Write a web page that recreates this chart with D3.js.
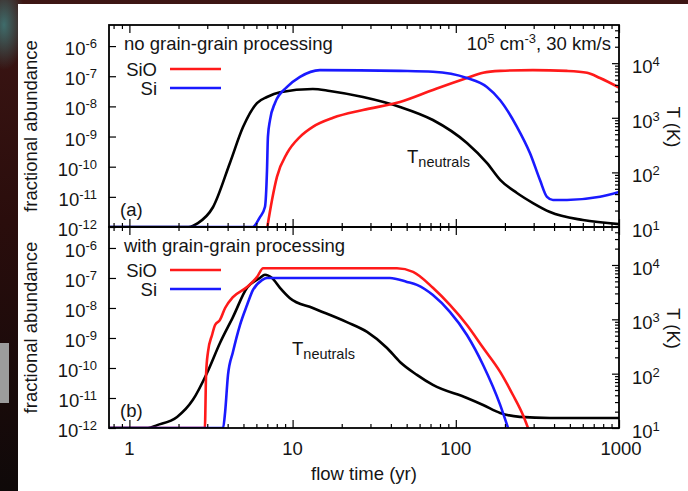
<!DOCTYPE html>
<html>
<head>
<meta charset="utf-8">
<script src="https://cdn.jsdelivr.net/npm/d3@7"></script>
<style>
    body { margin: 0; background: #1a0909; overflow: hidden; }
    svg text { font-family: "Liberation Sans", Arial, Helvetica, sans-serif; fill: #151515; }
</style>
</head>
<body>
<div id="chart"></div>
<script>
// Panel (a): no grain-grain processing
const aTempTime = [0.75, 2.3, 2.63, 3.25, 4.13, 4.97, 6.05, 6.97, 8.37, 13.3, 16.9, 27, 45.5, 72.4, 117, 155, 187, 237, 297, 378, 601, 1000];
const aTemp     = [10, 10, 11.8, 23, 149, 676, 1860, 2400, 2940, 3370, 3100, 2400, 1580, 910, 345, 149, 73, 42, 27.5, 18.8, 13.4, 11.3];
const aSiTime   = [0.75, 5.7, 6.3, 6.77, 6.97, 7.06, 7.27, 7.8, 9.25, 11.1, 14.7, 45.5, 72.4, 117, 155, 187, 237, 285, 328, 362, 394, 480, 765, 1000];
const aSi       = [1e-12, 1e-12, 2.1e-12, 4.6e-12, 7.8e-11, 9.8e-10, 3.5e-9, 1.3e-8, 4.4e-8, 9.5e-8, 1.6e-7, 1.5e-7, 1.4e-7, 8.7e-8, 4.4e-8, 1.6e-8, 2.1e-9, 2.8e-10, 3.6e-11, 1.0e-11, 7.9e-12, 7.9e-12, 1.0e-11, 1.45e-11];
const aSiOTime  = [7.0, 7.48, 8.02, 9.25, 11.1, 13.3, 17.7, 27, 45.5, 72.4, 117, 147, 187, 297, 480, 637, 765, 1000];
const aSiO      = [1e-12, 7.9e-12, 4.6e-11, 2.8e-10, 9.8e-10, 2.1e-9, 4.2e-9, 7.6e-9, 1.4e-8, 3.5e-8, 8.7e-8, 1.3e-7, 1.5e-7, 1.6e-7, 1.5e-7, 1.3e-7, 8.7e-8, 4.2e-8];

// Panel (b): with grain-grain processing
const bTempTime = [0.75, 1.3, 1.48, 1.96, 2.45, 2.99, 3.59, 4.31, 5.26, 6.3, 6.77, 7.48, 8.37, 9.64, 13.3, 21.5, 28.6, 37.9, 45.5, 57.8, 72.4, 117, 147, 187, 247, 378, 1000];
const bTemp     = [10, 10, 11.3, 16, 33, 103, 367, 1100, 3800, 5760, 6600, 5760, 3800, 2450, 1620, 890, 587, 297, 164, 95, 62, 35.6, 26.5, 18.9, 16, 15.3, 15.3];
const bSiTime   = [0.75, 3.75, 3.86, 4.02, 4.31, 4.76, 5.26, 5.72, 6.49, 6.97, 39.5, 50.2, 57.8, 72.4, 92, 117, 147, 187, 209];
const bSi       = [1e-12, 1e-12, 3.4e-12, 5.9e-11, 3.4e-10, 2.7e-9, 1.26e-8, 4e-8, 8.5e-8, 1e-7, 1e-7, 7.4e-8, 5.9e-8, 2.7e-8, 7.4e-9, 1.26e-9, 1.26e-10, 5.9e-12, 1e-12];
const bSiOTime  = [0.75, 2.9, 2.95, 3.03, 3.21, 3.35, 3.59, 3.86, 4.31, 5.26, 6.05, 6.6, 43.6, 54.7, 72.4, 92, 117, 147, 187, 224, 258, 277];
const bSiO      = [1e-12, 1e-12, 5.9e-11, 3.4e-10, 1.26e-9, 2.7e-9, 4e-9, 1e-8, 2.3e-8, 5e-8, 1.07e-7, 2.1e-7, 2.1e-7, 1.6e-7, 4.7e-8, 1.26e-8, 2.7e-9, 4.7e-10, 7.4e-11, 1.26e-11, 2.7e-12, 1e-12];

// Tick values
const xMajor = [1, 10, 100, 1000];
const xLabels = ["1", "10", "100", "1000"];
const abundExp = [-12, -11, -10, -9, -8, -7, -6];
const tempExp = [1, 2, 3, 4];

const W = 688, H = 491;
const plotL = 109, plotR = 619;

const svg = d3.select("#chart").append("svg")
    .attr("width", W)
    .attr("height", H);

// dark photo-like backdrop around the white card
const defs = svg.append("defs");
const bg = defs.append("linearGradient").attr("id", "bg").attr("x1", 0).attr("y1", 0).attr("x2", 0).attr("y2", 1);
bg.append("stop").attr("offset", "0%").attr("stop-color", "#3d1614");
bg.append("stop").attr("offset", "45%").attr("stop-color", "#2a0d0c");
bg.append("stop").attr("offset", "100%").attr("stop-color", "#0f0909");
const teal = defs.append("radialGradient").attr("id", "teal");
teal.append("stop").attr("offset", "0%").attr("stop-color", "#3f7675").attr("stop-opacity", 0.9);
teal.append("stop").attr("offset", "100%").attr("stop-color", "#3f7675").attr("stop-opacity", 0);

svg.append("rect").attr("width", W).attr("height", H).attr("fill", "url(#bg)");
svg.append("ellipse").attr("cx", 4).attr("cy", 25).attr("rx", 22).attr("ry", 45).attr("fill", "url(#teal)");
svg.append("rect").attr("x", 0).attr("y", 343).attr("width", 9).attr("height", 60).attr("fill", "#9c9c9c");
svg.append("rect").attr("x", 18).attr("y", 4).attr("width", W - 18).attr("height", H - 4).attr("fill", "#fff");

const x = d3.scaleLog().domain([0.75, 1000]).range([plotL, plotR]);

const xMinor = [];
[0.1, 1, 10, 100].forEach(d => d3.range(2, 10).forEach(k => {
    const v = d * k;
    if (v > 0.75 && v < 1000) xMinor.push(v);
}));
const tMinor = [];
[10, 100, 1000, 10000].forEach(d => d3.range(2, 10).forEach(k => {
    if (d * k < 5e4) tMinor.push(d * k);
}));

const panels = [
    { top: 25, bottom: 227, title: "no grain-grain processing", tag: "(a)",
      temp: [aTempTime, aTemp], si: [aSiTime, aSi], sio: [aSiOTime, aSiO],
      legendY: 69, labelT: [407, 163] },
    { top: 227, bottom: 428, title: "with grain-grain processing", tag: "(b)",
      temp: [bTempTime, bTemp], si: [bSiTime, bSi], sio: [bSiOTime, bSiO],
      legendY: 270, labelT: [292, 355] }
];

function pow10(sel, base, exp) {
    sel.text(base);
    sel.append("tspan").attr("dy", -7).attr("font-size", 13).text(exp);
}

panels.forEach((p, i) => {
    const yA = d3.scaleLog().domain([1e-12, 5e-6]).range([p.bottom, p.top]);
    const yT = d3.scaleLog().domain([10, 5e4]).range([p.bottom, p.top]);
    const g = svg.append("g");

    const clipId = "clip" + i;
    defs.append("clipPath").attr("id", clipId)
        .append("rect").attr("x", plotL).attr("y", p.top).attr("width", plotR - plotL).attr("height", p.bottom - p.top);

    // curves: T first, then SiO, then Si on top
    const lineT = d3.line().x(d => x(d[0])).y(d => yT(d[1])).curve(d3.curveMonotoneX);
    const lineA = d3.line().x(d => x(d[0])).y(d => yA(d[1])).curve(d3.curveMonotoneX);
    const curves = g.append("g").attr("clip-path", `url(#${clipId})`).attr("fill", "none").attr("stroke-width", 2.6);
    curves.append("path").datum(d3.zip(...p.temp)).attr("d", lineT).attr("stroke", "#000");
    curves.append("path").datum(d3.zip(...p.sio)).attr("d", lineA).attr("stroke", "#ff1a1a");
    curves.append("path").datum(d3.zip(...p.si)).attr("d", lineA).attr("stroke", "#1a1aff");

    // ticks, drawn inward
    const tickAxis = (axis, tr, vals, len) => {
        g.append("g").attr("transform", tr)
            .call(axis.tickValues(vals).tickSize(-len).tickFormat(""))
            .call(s => s.select(".domain").remove())
            .selectAll("line").attr("stroke", "#000").attr("stroke-width", 1.2);
    };
    tickAxis(d3.axisBottom(x), `translate(0,${p.bottom})`, xMajor, 8);
    tickAxis(d3.axisBottom(x), `translate(0,${p.bottom})`, xMinor, 4);
    tickAxis(d3.axisTop(x), `translate(0,${p.top})`, xMajor, 8);
    tickAxis(d3.axisTop(x), `translate(0,${p.top})`, xMinor, 4);
    tickAxis(d3.axisLeft(yA), `translate(${plotL},0)`, abundExp.map(e => Math.pow(10, e)), 7);
    tickAxis(d3.axisRight(yT), `translate(${plotR},0)`, tempExp.map(e => Math.pow(10, e)), 7);
    tickAxis(d3.axisRight(yT), `translate(${plotR},0)`, tMinor, 4);

    g.append("rect").attr("x", plotL).attr("y", p.top).attr("width", plotR - plotL).attr("height", p.bottom - p.top)
        .attr("fill", "none").attr("stroke", "#000").attr("stroke-width", 1.8);

    // tick labels
    abundExp.forEach(e => {
        g.append("text").attr("x", 97).attr("y", yA(Math.pow(10, e)) + 9)
            .attr("text-anchor", "end").attr("font-size", 18.5)
            .call(pow10, "10", e);
    });
    tempExp.forEach(e => {
        g.append("text").attr("x", 632).attr("y", yT(Math.pow(10, e)) + 10)
            .attr("font-size", 18.5)
            .call(pow10, "10", e);
    });

    // axis titles
    g.append("text").attr("transform", `translate(37,${(p.top + p.bottom) / 2}) rotate(-90)`)
        .attr("text-anchor", "middle").attr("font-size", 18.5).text("fractional abundance");
    g.append("text").attr("transform", `translate(667,${(p.top + p.bottom) / 2 + 1}) rotate(90)`)
        .attr("text-anchor", "middle").attr("font-size", 18.5).text("T (K)");

    // panel texts
    g.append("text").attr("x", 124).attr("y", p.top + 25).attr("font-size", 18.5).text(p.title);
    g.append("text").attr("x", 120).attr("y", p.bottom - 11).attr("font-size", 18.5).text(p.tag);

    const lt = g.append("text").attr("x", p.labelT[0]).attr("y", p.labelT[1]).attr("font-size", 18.5).text("T");
    lt.append("tspan").attr("dy", 4).attr("font-size", 14.5).text("neutrals");

    // legend
    [["SiO", "#ff1a1a"], ["Si", "#1a1aff"]].forEach((d, k) => {
        const ly = p.legendY + k * 19;
        g.append("text").attr("x", 157).attr("y", ly + 7).attr("text-anchor", "end").attr("font-size", 18.5).text(d[0]);
        g.append("line").attr("x1", 170).attr("x2", 221).attr("y1", ly).attr("y2", ly)
            .attr("stroke", d[1]).attr("stroke-width", 2.6);
    });

    if (i === 0) {
        const t = g.append("text").attr("x", 611).attr("y", 50).attr("text-anchor", "end").attr("font-size", 18.5);
        t.append("tspan").text("10");
        t.append("tspan").attr("dy", -7).attr("font-size", 13).text("5");
        t.append("tspan").attr("dy", 7).text(" cm");
        t.append("tspan").attr("dy", -7).attr("font-size", 13).text("-3");
        t.append("tspan").attr("dy", 7).text(", 30 km/s");
    } else {
        xMajor.forEach((v, k) => {
            g.append("text").attr("x", x(v) + (k === 3 ? 2 : 0)).attr("y", 455).attr("text-anchor", "middle")
                .attr("font-size", 18.5).text(xLabels[k]);
        });
        g.append("text").attr("x", (plotL + plotR) / 2).attr("y", 480).attr("text-anchor", "middle")
            .attr("font-size", 18.5).text("flow time (yr)");
    }
});
</script>
</body>
</html>
